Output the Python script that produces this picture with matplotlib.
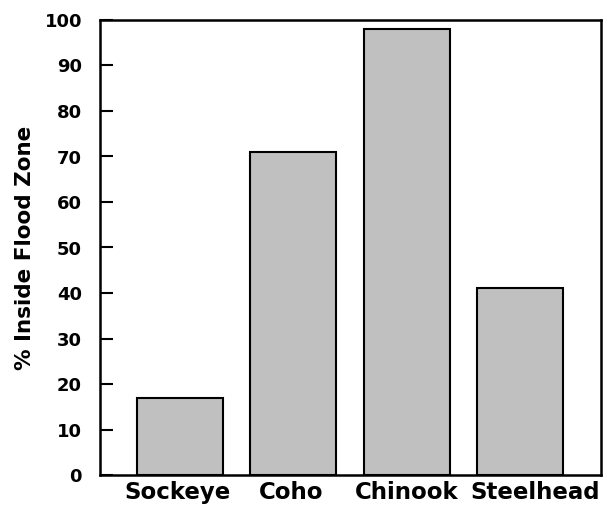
import matplotlib
matplotlib.use("Agg")
import matplotlib.pyplot as plt
from matplotlib.transforms import ScaledTranslation

categories = ["Sockeye", "Coho", "Chinook", "Steelhead"]
values = [17, 71, 98, 41]
yticks = [0, 10, 20, 30, 40, 50, 60, 70, 80, 90, 100]

plt.rcParams['font.family'] = ['DejaVu Sans']
plt.rcParams['font.weight'] = 'bold'

fig = plt.figure(figsize=(6.03, 5.11), dpi=100)
ax = fig.add_axes([100/603, 1-475/511, 501/603, 455/511])

x = list(range(len(categories)))
ax.bar(x, values, width=0.76, color='#c0c0c0', edgecolor='black', linewidth=1.5, zorder=2)

ax.set_xlim(-0.706, 3.715)
ax.set_ylim(0, 100)
ax.set_yticks(yticks)
ax.set_yticklabels([str(t) for t in yticks], fontsize=13, fontweight='bold')
ax.set_xticks(x)
ax.set_xticklabels(categories, fontsize=16.5, fontweight='bold')
ax.tick_params(axis='y', direction='in', length=9, width=1.5, pad=13)
ax.tick_params(axis='x', length=0, pad=4)
for s in ax.spines.values():
    s.set_linewidth(1.8)
ax.set_ylabel('% Inside Flood Zone', fontsize=15.5, fontweight='bold', labelpad=7)

# nudge labels as in the reference
shifts = [-3, -2, 0, 15]
for lab, dx in zip(ax.get_xticklabels(), shifts):
    lab.set_transform(lab.get_transform() + ScaledTranslation(dx/100, 0, fig.dpi_scale_trans))

fig.savefig('out.png', dpi=100)
